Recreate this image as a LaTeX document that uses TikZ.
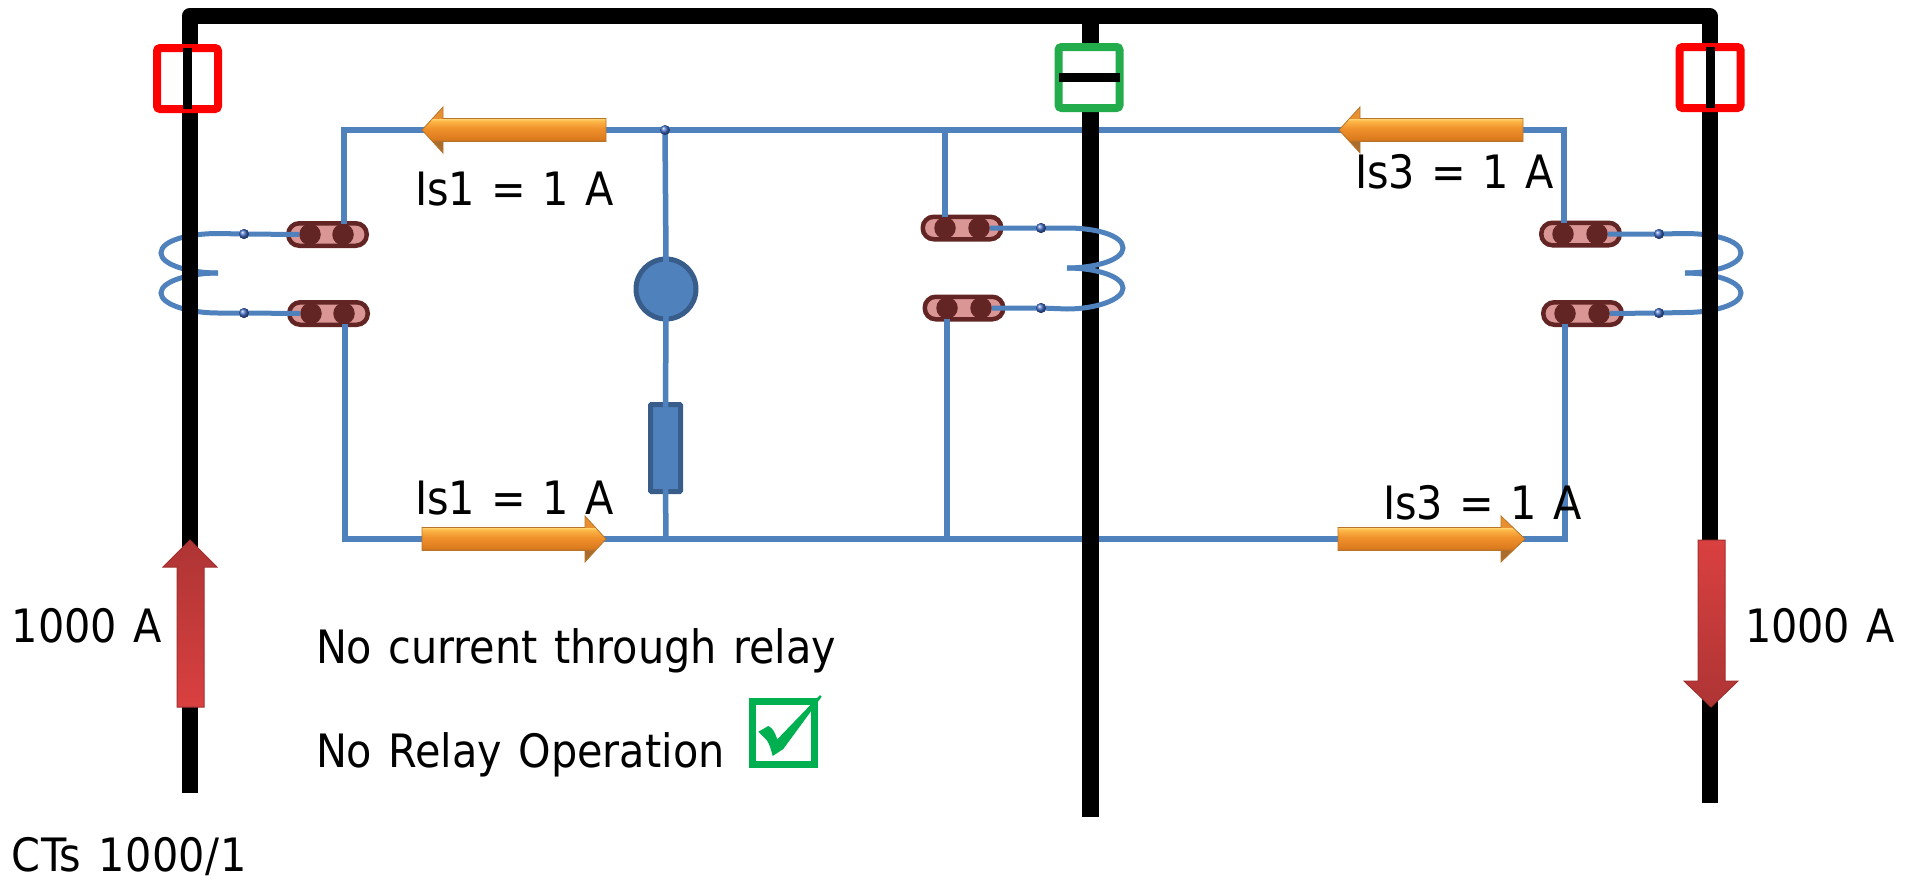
\documentclass[tikz,border=0pt]{standalone}
\usepackage{fontspec}
\setmainfont{DejaVu Sans Condensed}[WordSpace=1.25]
\usetikzlibrary{calc}
\definecolor{wireblue}{HTML}{4F81BD}
\definecolor{relayedge}{HTML}{385D8A}
\definecolor{termdark}{HTML}{632523}
\definecolor{termpink}{HTML}{D99694}
\definecolor{okgreen}{HTML}{00B050}
\definecolor{cbgreen}{HTML}{22AC4B}
\definecolor{oa}{HTML}{B87428}
\definecolor{ob}{HTML}{A86C2C}
\definecolor{oc}{HTML}{DC7A1E}
\definecolor{od}{HTML}{F0922C}
\definecolor{oe}{HTML}{FDB848}
\definecolor{of}{HTML}{FFD878}
\definecolor{og}{HTML}{E89030}
\definecolor{rdark}{HTML}{AE3434}
\definecolor{rlight}{HTML}{DA4040}
\definecolor{redge}{HTML}{A03030}
\pgfdeclareverticalshading{orangebar}{100bp}{color(0bp)=(oa); color(37bp)=(ob); color(40bp)=(oc); color(52bp)=(od); color(60bp)=(oe); color(62.5bp)=(of); color(63bp)=(og); color(100bp)=(og)}
\newcommand{\pxx}[1]{#1*0.75pt}
\tikzset{
  x=0.75pt,y=-0.75pt,
  bus/.style={line width=\pxx{16},black,line join=round},
  wire/.style={line width=\pxx{5.5},wireblue},
  coil/.style={line width=\pxx{5},wireblue},
  breaker/.style={draw,fill=white,line width=\pxx{8},rounded corners=\pxx{3},minimum width=\pxx{61},minimum height=\pxx{61},inner sep=0pt,outer sep=0pt},
  barmark/.style={fill=black,inner sep=0pt,outer sep=0pt},
  termblock/.style={draw=termdark,fill=termpink,line width=\pxx{4.5},rounded corners=\pxx{11},minimum width=\pxx{78.5},minimum height=\pxx{22.5},inner sep=0pt,outer sep=0pt},
  termdot/.style={circle,fill=termdark,minimum size=\pxx{21.5},inner sep=0pt,outer sep=0pt},
  wdot/.style={circle,ball color=wireblue!85!blue,minimum size=\pxx{10},inner sep=0pt,outer sep=0pt},
  relaycirc/.style={circle,draw=relayedge,fill=wireblue,line width=\pxx{5},minimum size=\pxx{60},inner sep=0pt,outer sep=0pt},
  relayres/.style={rectangle,draw=relayedge,fill=wireblue,line width=\pxx{5},rounded corners=\pxx{1},minimum width=\pxx{30},minimum height=\pxx{87},inner sep=0pt,outer sep=0pt},
  lbl/.style={anchor=base west,inner sep=0pt,outer sep=0pt,font=\fontsize{34.5}{35}\selectfont,text=black},
  orangearrow/.style={shading=orangebar,draw=oa,line width=\pxx{0.8}},
  redarrow/.style={draw=redge,line width=\pxx{1}},
}
\begin{document}
\begin{tikzpicture}
\useasboundingbox (0,0) rectangle (1914,879);
% wire corners
\coordinate (tl) at (344,130);
\coordinate (tr) at (1564,130);
\coordinate (bl) at (345,539);
\coordinate (br) at (1565,539);
\coordinate (tj) at (665,130);
\coordinate (tm) at (945,130);
\coordinate (bm) at (947,539);
\coordinate (bj) at (666,539);
% terminal blocks
\node[termblock] (TL1) at (327.5,234.5) {};
\node[termdot] (TL1a) at (310,234.5) {};
\node[termdot] (TL1b) at (343,234.5) {};
\node[termblock] (TL2) at (328.5,313.5) {};
\node[termdot] (TL2a) at (311,313.5) {};
\node[termdot] (TL2b) at (344,313.5) {};
\node[termblock] (TM1) at (962,228) {};
\node[termdot] (TM1a) at (945,228) {};
\node[termdot] (TM1b) at (979,228) {};
\node[termblock] (TM2) at (964,308) {};
\node[termdot] (TM2a) at (947,308) {};
\node[termdot] (TM2b) at (981,308) {};
\node[termblock] (TR1) at (1580.5,234) {};
\node[termdot] (TR1a) at (1563,234) {};
\node[termdot] (TR1b) at (1597,234) {};
\node[termblock] (TR2) at (1582.5,313.5) {};
\node[termdot] (TR2a) at (1565,313.5) {};
\node[termdot] (TR2b) at (1599,313.5) {};
% relay
\node[relaycirc] (relay) at (666,289) {};
\node[relayres] (res) at (665.5,448) {};
% secondary wiring loop
\draw[wire,line join=miter] (TL1b.north -| tl) -- (tl) -- (tr) -- (TR1a.north -| tr);
\draw[wire,line join=miter] (TL2b.south -| bl) -- (bl) -- (br) -- (TR2a.south -| br);
\draw[wire] (tm) -- (TM1a.north -| tm);
\draw[wire] (bm) -- (TM2a.south -| bm);
\draw[wire] (tj) -- (relay.north);
\draw[wire] ($(relay.north)+(0,3)$) -- (relay.north);
\draw[wire] ($(relay.south)+(0,-3)$) -- ($(res.north)+(0,3)$);
\draw[wire] ($(res.south)+(0,-3)$) -- (bj);
% left CT
\coordinate (cl) at (218,273);
\node[wdot] (DL1) at (244,234) {};
\node[wdot] (DL2) at (244,313) {};
\draw[coil] (TL1a.west) -- (DL1.center) -- (218,233.5) .. controls (190,233.5) and (161,240) .. (161,253) .. controls (161,265) and (190,273) .. (cl);
\draw[coil] (cl) .. controls (190,273) and (161,281) .. (161,293) .. controls (161,305) and (190,313) .. (218,313) -- (DL2.center) -- (TL2a.west);
\node[wdot] at (DL1) {};
\node[wdot] at (DL2) {};
% right CT
\coordinate (cr) at (1685,273);
\node[wdot] (DR1) at (1659,234) {};
\node[wdot] (DR2) at (1659,313) {};
\draw[coil] (TR1b.east) -- (DR1.center) -- (1685,233.5) .. controls (1713,233.5) and (1741,240) .. (1741,253) .. controls (1741,265) and (1713,273) .. (cr);
\draw[coil] (cr) .. controls (1713,273) and (1741,281) .. (1741,293) .. controls (1741,305) and (1713,312.5) .. (1685,312.5) -- (DR2.center) -- (TR2b.east);
\node[wdot] at (DR1) {};
\node[wdot] at (DR2) {};
% buses
\draw[bus] (189.5,793) -- (189.5,16) -- (1709.5,16) -- (1709.5,803);
\draw[bus,line width=\pxx{17}] (1090,16) -- (1090,817);
% breakers
\node[breaker,draw=red] (cbL) at (187.5,78.5) {};
\node[barmark,minimum width=\pxx{9},minimum height=\pxx{61}] (barL) at (cbL) {};
\node[breaker,draw=cbgreen] (cbM) at (1089,77.5) {};
\node[barmark,minimum width=\pxx{61},minimum height=\pxx{9}] (barM) at (cbM) {};
\node[breaker,draw=red] (cbR) at (1710,77.5) {};
\node[barmark,minimum width=\pxx{9},minimum height=\pxx{61}] (barR) at (cbR) {};
% middle CT (in front of the bus)
\coordinate (cm) at (1067,268);
\node[wdot] (DM1) at (1041,228) {};
\node[wdot] (DM2) at (1041,308) {};
\draw[coil] (TM1b.east) -- (DM1.center) -- (1067,228) .. controls (1095,228) and (1123,235) .. (1123,248) .. controls (1123,260) and (1095,268) .. (cm);
\draw[coil] (cm) .. controls (1095,268) and (1123,276) .. (1123,288) .. controls (1123,300) and (1095,309) .. (1067,309) -- (DM2.center) -- (TM2b.east);
\node[wdot] at (DM1) {};
\node[wdot] at (DM2) {};
% junction dot
\node[wdot] at (tj) {};
% orange arrows
\path[orangearrow] (422,130) -- (443,107) -- (443,118.5) -- (606,118.5) -- (606,141.5) -- (443,141.5) -- (443,153) -- cycle;
\path[orangearrow] (1339,130) -- (1360,107) -- (1360,118.5) -- (1523,118.5) -- (1523,141.5) -- (1360,141.5) -- (1360,153) -- cycle;
\path[orangearrow] (606,539) -- (585,516) -- (585,527.5) -- (422,527.5) -- (422,550.5) -- (585,550.5) -- (585,562) -- cycle;
\path[orangearrow] (1525,539) -- (1501,516) -- (1501,527.5) -- (1338,527.5) -- (1338,550.5) -- (1501,550.5) -- (1501,562) -- cycle;
% red arrows
\shade[redarrow,top color=rdark,bottom color=rlight] (190,540) -- (217,567) -- (204,567) -- (204,707) -- (177,707) -- (177,567) -- (163,567) -- cycle;
\shade[redarrow,top color=rlight,bottom color=rdark] (1711,707) -- (1738,681) -- (1725,681) -- (1725,540) -- (1698,540) -- (1698,681) -- (1684,681) -- cycle;
% check box
\node[draw=okgreen,line width=\pxx{7},minimum width=\pxx{62},minimum height=\pxx{63},inner sep=0pt,outer sep=0pt] (chk) at (783,733) {};
\fill[okgreen] (758.3,731.7) -- (768.3,726) .. controls (773,728) and (775,733) .. (777.3,739.3) -- (820,695) -- (821.7,696.7) -- (783.3,749) -- (772.7,756) .. controls (771,750) and (770,745) .. (766.7,740) -- cycle;
% labels
\node[lbl] (a) at (415,205) {Is1 = 1 A};
\node[lbl] (b) at (415,514) {Is1 = 1 A};
\node[lbl] (c) at (1355,188) {Is3 = 1 A};
\node[lbl] (d) at (1383,519) {Is3 = 1 A};
\node[lbl] (e) at (12,642) {1000 A};
\node[lbl] (f) at (1745,642) {1000 A};
\node[lbl] (g) at (12,871) {\addfontfeature{LetterSpace=1.2}CTs 1000/1};
\node[lbl] (h) at (316,663) {No current through relay};
\node[lbl] (i) at (316,767) {No Relay Operation};
\end{tikzpicture}
\end{document}
